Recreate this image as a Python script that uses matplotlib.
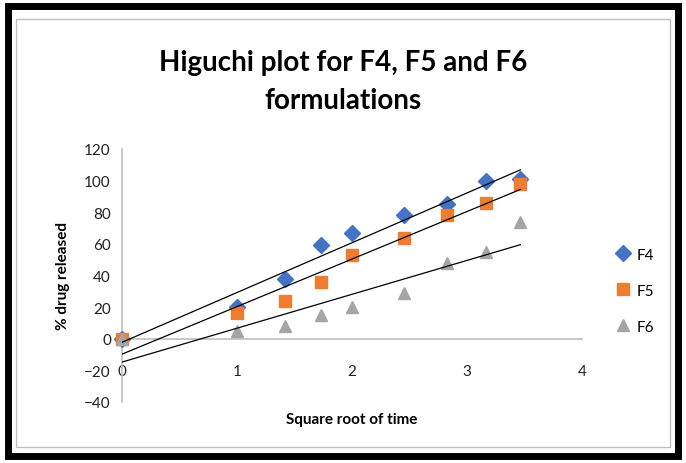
import numpy as np
import matplotlib.pyplot as plt
from matplotlib.patches import Rectangle

# sqrt(time) values and % drug released
sqrt_time = [0, 1, 1.414, 1.732, 2, 2.449, 2.828, 3.162, 3.464]
f4 = [0, 20, 38, 59, 67, 78, 85, 100, 101]
f5 = [0, 16, 24, 36, 53, 64, 78, 86, 98]
f6 = [0, 5, 8, 15, 20, 29, 48, 55, 74]

series = [("F4", f4, "#4472C4", "D", 8),
          ("F5", f5, "#ED7D31", "s", 9),
          ("F6", f6, "#A5A5A5", "^", 9)]

plt.rcParams['font.family'] = ['Lato', 'DejaVu Sans']

fig = plt.figure(figsize=(6.86, 4.64), dpi=100)
# outer black frame and inner chart border
fig.patches.append(Rectangle((0.012, 0.016), 0.976, 0.968, transform=fig.transFigure,
                             fill=False, edgecolor="black", linewidth=5))
fig.patches.append(Rectangle((0.024, 0.035), 0.952, 0.922, transform=fig.transFigure,
                             fill=False, edgecolor="#BFBFBF", linewidth=1))

ax = fig.add_axes([122 / 686, 1 - 403 / 464, 460 / 686, 253 / 464])
x = np.array(sqrt_time)
for name, vals, color, marker, ms in series:
    ax.plot(x, vals, linestyle="none", marker=marker, color=color,
            markersize=ms, label=name, zorder=3, clip_on=False)
    slope, icpt = np.polyfit(x, vals, 1)
    xs = np.array([x.min(), x.max()])
    ax.plot(xs, slope * xs + icpt, color="black", linewidth=0.9, zorder=4)

ax.set_xlim(0, 4)
ax.set_ylim(-40, 120)
ax.set_yticks(range(-40, 121, 20))
ax.set_xticks(range(0, 5))
ax.spines['top'].set_visible(False)
ax.spines['right'].set_visible(False)
ax.spines['bottom'].set_position(('data', 0))
ax.spines['left'].set_position(('data', 0))
for s in ('bottom', 'left'):
    ax.spines[s].set_color("#BFBFBF")
    ax.spines[s].set_linewidth(1.2)
ax.tick_params(length=0, labelsize=11, colors="#222222")
ax.tick_params(axis="x", pad=18)
ax.tick_params(axis="y", pad=8)

ax.set_xlabel("Square root of time", fontsize=11, fontweight="bold")
ax.xaxis.set_label_coords(0.5, -0.04)
ax.set_ylabel("% drug released", fontsize=11, fontweight="bold", labelpad=10)

fig.text(0.5, 0.865, "Higuchi plot for F4, F5 and F6", ha="center", va="center",
         fontsize=20, fontweight="bold")
fig.text(0.5, 0.782, "formulations", ha="center", va="center",
         fontsize=20, fontweight="bold")

ax.legend(loc="center left", bbox_to_anchor=(1.04, 0.44), frameon=False,
          fontsize=11, handletextpad=0.3, labelspacing=1.45, handlelength=1.2)

fig.savefig("out.png", dpi=100)
